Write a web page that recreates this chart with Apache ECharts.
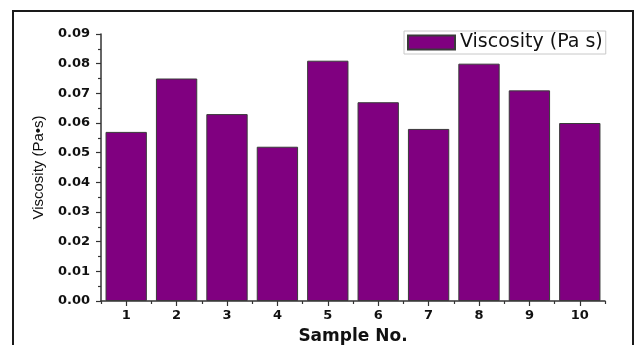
<!DOCTYPE html>
<html>
<head>
<meta charset="utf-8">
<script src="https://cdn.jsdelivr.net/npm/echarts@6/dist/echarts.min.js"></script>
<style>
html,body{margin:0;padding:0;background:#fff;}
#chart{width:635px;height:345px;}
</style>
</head>
<body>
<div id="chart"></div>
<script>
const categories = ['1','2','3','4','5','6','7','8','9','10'];
const viscosity = [0.057, 0.075, 0.063, 0.052, 0.081, 0.067, 0.058, 0.080, 0.071, 0.060];
const yTicks = {min: 0, max: 0.09, interval: 0.01};
const seriesName = 'Viscosity (Pa s)';
const yName = 'Viscosity (Pa\u2022s)';
const xName = 'Sample No.';

const chart = echarts.init(document.getElementById('chart'), null, {renderer: 'canvas'});
const axisColor = '#333';
chart.setOption({
  animation: false,
  backgroundColor: '#fff',
  graphic: [{
    type: 'rect',
    shape: {x: 13, y: 11, width: 620, height: 400},
    style: {fill: 'none', stroke: '#1a1a1a', lineWidth: 2},
    silent: true
  }],
  grid: {left: 101, right: 30, top: 34, bottom: 44, containLabel: false, outerBoundsMode: 'none'},
  legend: {
    left: 404, top: 31,
    padding: [2, 3, 2, 3],
    borderColor: '#c8c8c8', borderWidth: 1,
    itemWidth: 47, itemHeight: 14, itemGap: 5,
    icon: 'rect',
    textStyle: {fontFamily: 'DejaVu Sans', fontSize: 19, color: '#111', lineHeight: 16},
    data: [seriesName]
  },
  xAxis: [{
    type: 'category',
    data: categories,
    position: 'bottom',
    name: xName,
    nameLocation: 'middle',
    nameGap: 27,
    nameTextStyle: {fontFamily: 'DejaVu Sans', fontWeight: 'bold', fontSize: 17, color: '#111'},
    axisLine: {show: true, lineStyle: {color: axisColor, width: 1.5}},
    axisTick: {show: true, alignWithLabel: true, length: 5, lineStyle: {color: axisColor, width: 1.2}},
    axisLabel: {fontFamily: 'DejaVu Sans', fontWeight: 'bold', fontSize: 13, color: '#111', margin: 8},
    splitLine: {show: false}
  }, {
    type: 'category',
    data: categories,
    position: 'bottom',
    axisLine: {show: false},
    axisTick: {show: true, length: 3, lineStyle: {color: axisColor, width: 1.2}},
    axisLabel: {show: false},
    splitLine: {show: false}
  }],
  yAxis: {
    type: 'value',
    min: yTicks.min, max: yTicks.max, interval: yTicks.interval,
    name: yName,
    nameLocation: 'middle',
    nameGap: 55,
    nameTextStyle: {fontFamily: 'Liberation Sans', fontSize: 15, color: '#111'},
    axisLine: {show: true, lineStyle: {color: axisColor, width: 1.5}},
    axisTick: {show: true, length: 5, lineStyle: {color: axisColor, width: 1.2}},
    minorTick: {show: true, splitNumber: 2, length: 3, lineStyle: {color: axisColor, width: 1.2}},
    axisLabel: {
      fontFamily: 'DejaVu Sans', fontWeight: 'bold', fontSize: 13, color: '#111', margin: 11,
      formatter: v => v.toFixed(2)
    },
    splitLine: {show: false},
    minorSplitLine: {show: false}
  },
  series: [{
    name: seriesName,
    type: 'bar',
    data: viscosity,
    xAxisIndex: 0,
    barCategoryGap: '18%',
    itemStyle: {color: '#800080', borderColor: '#3a3a3a', borderWidth: 1}
  }]
});
</script>
</body>
</html>
